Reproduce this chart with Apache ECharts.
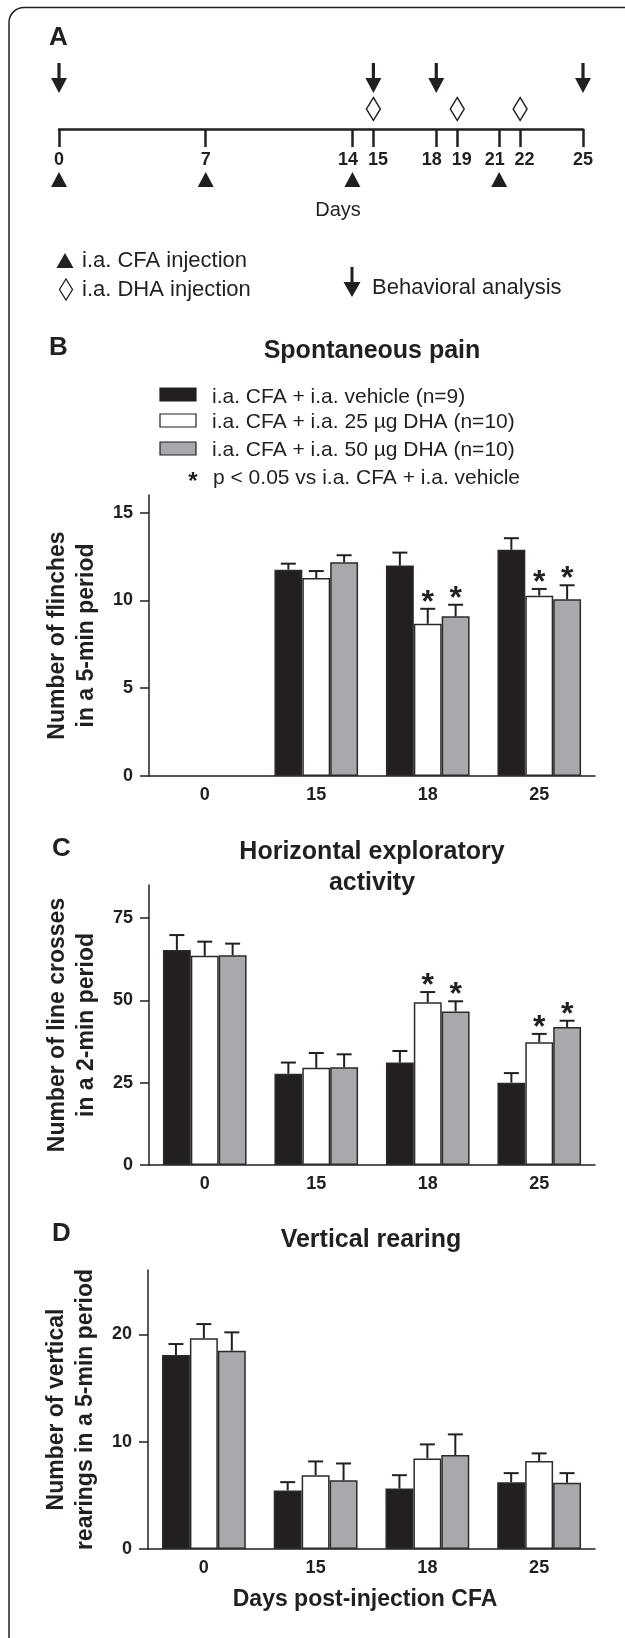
<!DOCTYPE html>
<html><head><meta charset="utf-8">
<script src="https://cdn.jsdelivr.net/npm/echarts@6/dist/echarts.min.js"></script>
<style>html,body{margin:0;padding:0;background:#fff}#c{width:625px;height:1638px}</style>
</head><body><div id="c"></div>
<script>
// ---------- Panel A: timeline (days) ----------
const timelineDays = [0, 7, 14, 15, 18, 19, 21, 22, 25];
const behaviorDays = [0, 15, 18, 25];
const dhaDays = [15, 19, 22];
const cfaDays = [0, 7, 14, 21];

// ---------- Bar panels ----------
const days = ['0', '15', '18', '25'];
const groupNames = ['i.a. CFA + i.a. vehicle (n=9)', 'i.a. CFA + i.a. 25 µg DHA (n=10)', 'i.a. CFA + i.a. 50 µg DHA (n=10)'];

// B: Spontaneous pain
const painVeh = [null, 11.75, 11.98, 12.88];
const painVehSem = [null, 0.34, 0.74, 0.66];
const pain25 = [null, 11.27, 8.67, 10.27];
const pain25Sem = [null, 0.40, 0.85, 0.38];
const pain50 = [null, 12.17, 9.09, 10.06];
const pain50Sem = [null, 0.40, 0.66, 0.80];
const painSig25 = [0, 0, 1, 1];
const painSig50 = [0, 0, 1, 1];
const painTicks = [0, 5, 10, 15];

// C: Horizontal exploratory activity
const horizVeh = [65.3, 27.7, 31.1, 25.0];
const horizVehSem = [4.5, 3.4, 3.5, 2.9];
const horiz25 = [63.5, 29.5, 49.4, 37.3];
const horiz25Sem = [4.3, 4.5, 3.1, 2.5];
const horiz50 = [63.7, 29.7, 46.6, 41.9];
const horiz50Sem = [3.5, 3.9, 3.1, 1.9];
const horizSig25 = [0, 0, 1, 1];
const horizSig50 = [0, 0, 1, 1];
const horizTicks = [0, 25, 50, 75];

// D: Vertical rearing
const rearVeh = [18.07, 5.45, 5.64, 6.23];
const rearVehSem = [1.03, 0.78, 1.24, 0.84];
const rear25 = [19.65, 6.88, 8.44, 8.19];
const rear25Sem = [1.31, 1.28, 1.31, 0.72];
const rear50 = [18.47, 6.41, 8.75, 6.17];
const rear50Sem = [1.72, 1.56, 1.93, 0.90];
const rearSigNone = [0, 0, 0, 0];
const rearTicks = [0, 10, 20];

const FONT = '"Liberation Sans", Arial, sans-serif';
const INK = '#231f20';
const FILLS = ['#231f20', '#ffffff', '#a7a9ac'];

const panels = [
  { grid: { left: 149, top: 495, width: 446, height: 281 }, max: 16, ticks: painTicks,
    name: 'Number of flinches\nin a 5-min period',
    means: [painVeh, pain25, pain50], sems: [painVehSem, pain25Sem, pain50Sem], sigs: [rearSigNone, painSig25, painSig50] },
  { grid: { left: 149, top: 885, width: 446, height: 280 }, max: 85, ticks: horizTicks,
    name: 'Number of line crosses\nin a 2-min period',
    means: [horizVeh, horiz25, horiz50], sems: [horizVehSem, horiz25Sem, horiz50Sem], sigs: [rearSigNone, horizSig25, horizSig50] },
  { grid: { left: 148, top: 1270, width: 447, height: 279 }, max: 26, ticks: rearTicks,
    name: 'Number of vertical\nrearings in a 5-min period',
    means: [rearVeh, rear25, rear50], sems: [rearVehSem, rear25Sem, rear50Sem], sigs: [rearSigNone, rearSigNone, rearSigNone] }
];

// labels of close ticks are nudged apart (left / right) like the schematic
const nudgeLeft = [14, 18, 21];
const nudgeRight = [15, 19, 22];

// timeline grid: bottom edge is the day axis (y = 129)
const grids = [{ left: 59, top: 59, width: 524, height: 70 }];
const xAxes = [{
  type: 'value', gridIndex: 0, min: 0, max: 25,
  axisLine: { lineStyle: { color: INK, width: 2.5 } },
  axisTick: { show: true, customValues: timelineDays, length: 18, lineStyle: { color: INK, width: 2.5 } },
  axisLabel: {
    customValues: timelineDays, margin: 22, color: INK, fontSize: 18, fontWeight: 'bold', fontFamily: FONT,
    formatter: (v) => nudgeLeft.includes(v) ? '{l|' + v + '}' : nudgeRight.includes(v) ? '{r|' + v + '}' : String(v),
    rich: {
      l: { fontSize: 18, fontWeight: 'bold', fontFamily: FONT, color: INK, padding: [0, 9, 0, 0] },
      r: { fontSize: 18, fontWeight: 'bold', fontFamily: FONT, color: INK, padding: [0, 0, 0, 9] }
    }
  },
  splitLine: { show: false }
}];
const yAxes = [{ type: 'value', gridIndex: 0, min: 0, max: 7, show: false }];

const arrowPath = 'path://M-1.6,0 L1.6,0 L1.6,15 L8,15 L0,30 L-8,15 L-1.6,15 Z';
const series = [
  { type: 'scatter', xAxisIndex: 0, yAxisIndex: 0, silent: true, clip: false, symbol: arrowPath, symbolSize: [16, 30],
    itemStyle: { color: INK, opacity: 1 }, data: behaviorDays.map(d => [d, 5.1]) },
  { type: 'scatter', xAxisIndex: 0, yAxisIndex: 0, silent: true, clip: false, symbol: 'diamond', symbolSize: [14, 23],
    itemStyle: { color: '#fff', borderColor: INK, borderWidth: 1.5, opacity: 1 }, data: dhaDays.map(d => [d, 2.0]) },
  { type: 'scatter', xAxisIndex: 0, yAxisIndex: 0, silent: true, clip: false, symbol: 'triangle', symbolSize: [16, 15],
    itemStyle: { color: INK, opacity: 1 }, data: cfaDays.map(d => [d, -5.05]) }
];

function errRender(k) {
  return function (params, api) {
    const ci = api.value(0);
    const band = api.size([1, 0])[0];
    const x = api.coord([ci, 0])[0] + (k - 1) * band * 0.25;
    const yM = api.coord([ci, api.value(1)])[1];
    const yT = api.coord([ci, api.value(2)])[1];
    const ch = [
      { type: 'line', shape: { x1: x, y1: yM, x2: x, y2: yT }, style: { stroke: INK, lineWidth: 2 } },
      { type: 'line', shape: { x1: x - 7.5, y1: yT, x2: x + 7.5, y2: yT }, style: { stroke: INK, lineWidth: 2 } }
    ];
    if (api.value(3)) {
      ch.push({ type: 'text', x: x, y: yT - 6,
        style: { text: '*', font: 'bold 32px ' + FONT, fill: INK, align: 'center', verticalAlign: 'middle' } });
    }
    return { type: 'group', children: ch };
  };
}

panels.forEach((p, pi) => {
  const g = pi + 1;
  grids.push(p.grid);
  xAxes.push({
    type: 'category', gridIndex: g, data: days,
    axisLine: { lineStyle: { color: INK, width: 1.5 } },
    axisTick: { show: false },
    axisLabel: { color: INK, fontSize: 18, fontWeight: 'bold', fontFamily: FONT, margin: 10 },
    splitLine: { show: false }
  });
  yAxes.push({
    type: 'value', gridIndex: g, min: 0, max: p.max,
    axisLine: { show: true, lineStyle: { color: INK, width: 1.5 } },
    axisTick: { show: true, customValues: p.ticks, length: 9, lineStyle: { color: INK, width: 1.5 } },
    axisLabel: { customValues: p.ticks, margin: 16, color: INK, fontSize: 18, fontWeight: 'bold', fontFamily: FONT },
    splitLine: { show: false },
    name: p.name, nameLocation: 'middle', nameRotate: 90, nameGap: 48,
    nameTextStyle: { color: INK, fontSize: 23, fontWeight: 'bold', fontFamily: FONT, lineHeight: 29 }
  });
  for (let k = 0; k < 3; k++) {
    series.push({
      type: 'bar', xAxisIndex: g, yAxisIndex: g, name: groupNames[k], silent: true,
      barGap: '0%', barCategoryGap: '25%',
      itemStyle: { color: FILLS[k], borderColor: '#2b2b2b', borderWidth: 1.5 },
      data: p.means[k]
    });
  }
  for (let k = 0; k < 3; k++) {
    const data = [];
    p.means[k].forEach((m, i) => {
      if (m != null) data.push([i, m, m + p.sems[k][i], p.sigs[k][i]]);
    });
    series.push({
      type: 'custom', xAxisIndex: g, yAxisIndex: g, silent: true, z: 5,
      renderItem: errRender(k), encode: { x: 0, y: [1, 2] }, data: data
    });
  }
});

function txt(x, y, text, font, align) {
  return { type: 'text', x: x, y: y, silent: true,
    style: { text: text, font: font, fill: INK, align: align || 'left', verticalAlign: 'middle' } };
}
const BOLD = (s) => 'bold ' + s + 'px ' + FONT;
const REG = (s) => s + 'px ' + FONT;

const graphic = [
  { type: 'rect', silent: true, shape: { x: 9, y: 7.5, width: 700, height: 1700, r: 15 },
    style: { fill: 'none', stroke: INK, lineWidth: 1.5 } },
  txt(49, 38, 'A', BOLD(26)),
  txt(338, 210, 'Days', REG(20), 'center'),
  { type: 'polygon', silent: true, shape: { points: [[56.5, 268], [73.5, 268], [65, 253]] }, style: { fill: INK } },
  txt(82, 261, 'i.a. CFA injection', REG(22)),
  { type: 'polygon', silent: true, shape: { points: [[66, 279], [72.5, 289.5], [66, 300], [59.5, 289.5]] },
    style: { fill: '#fff', stroke: INK, lineWidth: 1.3 } },
  txt(82, 290, 'i.a. DHA injection', REG(22)),
  { type: 'polygon', silent: true,
    shape: { points: [[350.5, 267], [353.5, 267], [353.5, 282], [360.5, 282], [352, 297], [343.5, 282], [350.5, 282]] },
    style: { fill: INK } },
  txt(372, 288, 'Behavioral analysis', REG(22)),

  txt(49, 348, 'B', BOLD(26)),
  txt(372, 351, 'Spontaneous pain', BOLD(25), 'center'),
  { type: 'rect', silent: true, shape: { x: 160, y: 388, width: 36, height: 13 }, style: { fill: FILLS[0], stroke: INK, lineWidth: 1.2 } },
  { type: 'rect', silent: true, shape: { x: 160, y: 414, width: 36, height: 13 }, style: { fill: FILLS[1], stroke: INK, lineWidth: 1.2 } },
  { type: 'rect', silent: true, shape: { x: 160, y: 442, width: 36, height: 13 }, style: { fill: FILLS[2], stroke: INK, lineWidth: 1.2 } },
  txt(212, 397, groupNames[0], REG(21)),
  txt(212, 422, groupNames[1], REG(21)),
  txt(212, 450, groupNames[2], REG(21)),
  txt(193, 482, '*', BOLD(24), 'center'),
  txt(213, 478, 'p < 0.05 vs i.a. CFA + i.a. vehicle', REG(21)),

  txt(52, 849, 'C', BOLD(26)),
  txt(372, 852, 'Horizontal exploratory', BOLD(25), 'center'),
  txt(372, 883, 'activity', BOLD(25), 'center'),

  txt(52, 1234, 'D', BOLD(26)),
  txt(371, 1240, 'Vertical rearing', BOLD(25), 'center'),
  txt(365, 1600, 'Days post-injection CFA', BOLD(23), 'center')
];

const chart = echarts.init(document.getElementById('c'), null, { renderer: 'canvas' });
chart.setOption({
  animation: false,
  backgroundColor: '#ffffff',
  grid: grids, xAxis: xAxes, yAxis: yAxes, series: series, graphic: graphic
});
</script>
</body></html>
